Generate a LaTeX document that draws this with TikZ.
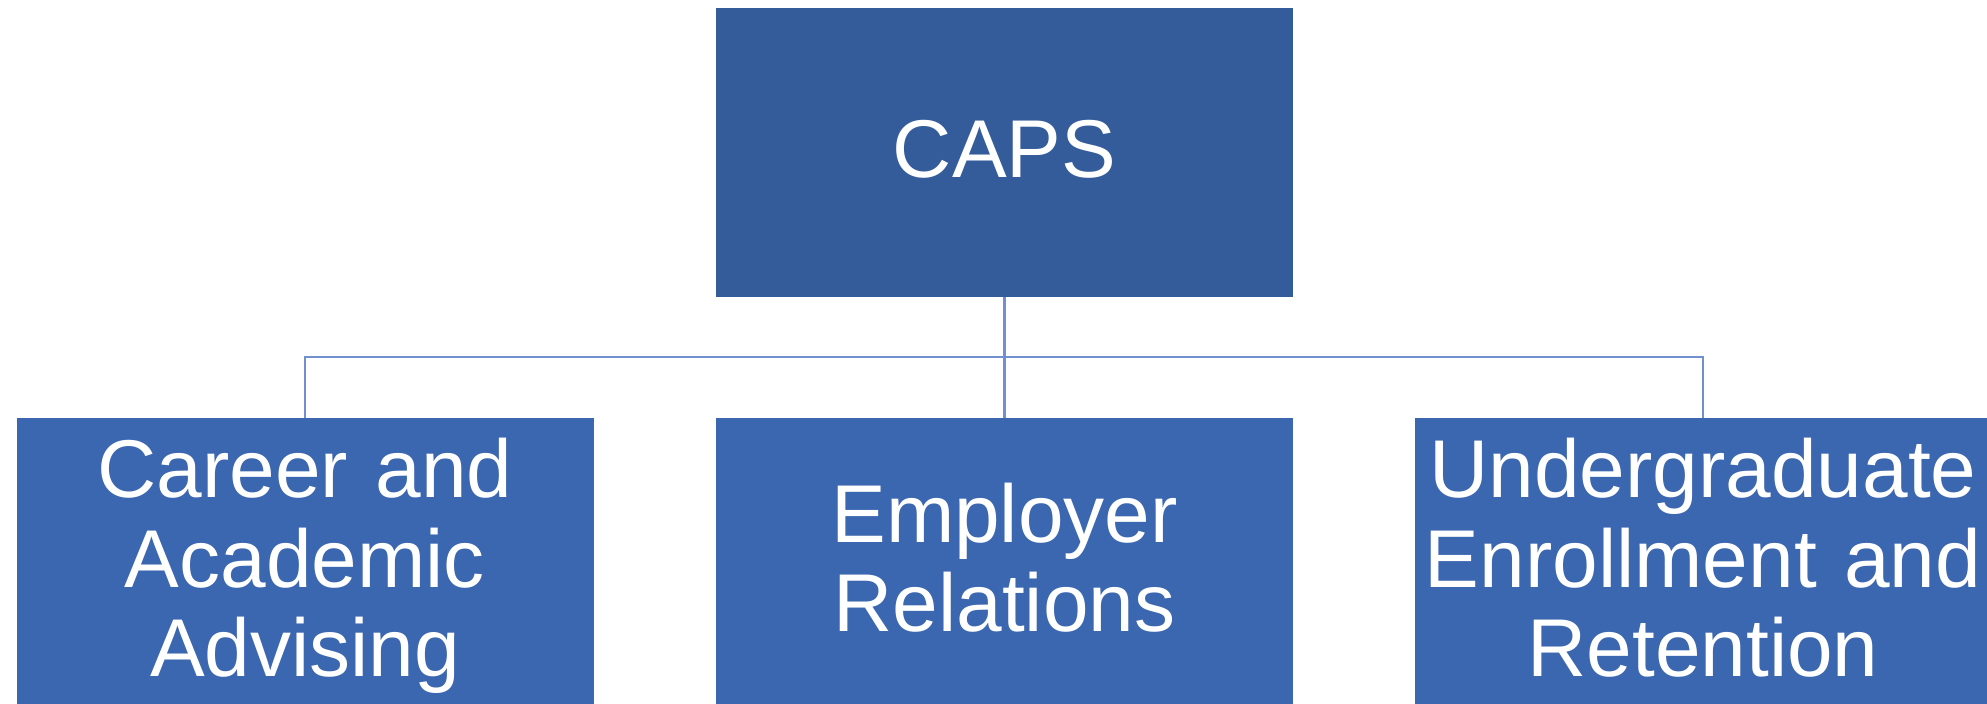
\documentclass[tikz,border=0pt]{standalone}
\usepackage{fontspec}
\setmainfont{Liberation Sans}
\definecolor{topblue}{HTML}{355C9A}
\definecolor{unitblue}{HTML}{3B66B0}
\definecolor{linkblue}{HTML}{7090D0}
\newcommand\unitstrut{\rule[-20pt]{0pt}{89.5pt}}
\tikzset{unit/.style={rectangle, fill=unitblue, text=white, inner sep=0pt,
    minimum width=577pt, minimum height=289pt, text width=577pt, align=center,
    font=\fontsize{82}{89.5}\selectfont,
    execute at begin node=\unitstrut, execute at end node=\unitstrut},
  link/.style={draw=linkblue, line width=2.5pt}}
\begin{document}
\begin{tikzpicture}[x=1pt, y=1pt]
\useasboundingbox (0,0) rectangle (1987,704);

          \node [unit,fill=topblue] at (1004.5,551.5) (caps) {CAPS};
             \node [unit] at (305,141.5) (career) {Career and\\Academic\\Advising};
             \node [unit] at (1004.5,141.5) (employer) {Employer\\Relations};
             \node [unit] at (1703,141.5) (retention) {Undergraduate\\Enrollment and\\Retention};
%
             \coordinate (bus) at (1004.5,347);
%
\path[link] (caps.south) -- (employer.north);
\path[link] (career.north) |- (bus) -| (retention.north);

\end{tikzpicture}
\end{document}
